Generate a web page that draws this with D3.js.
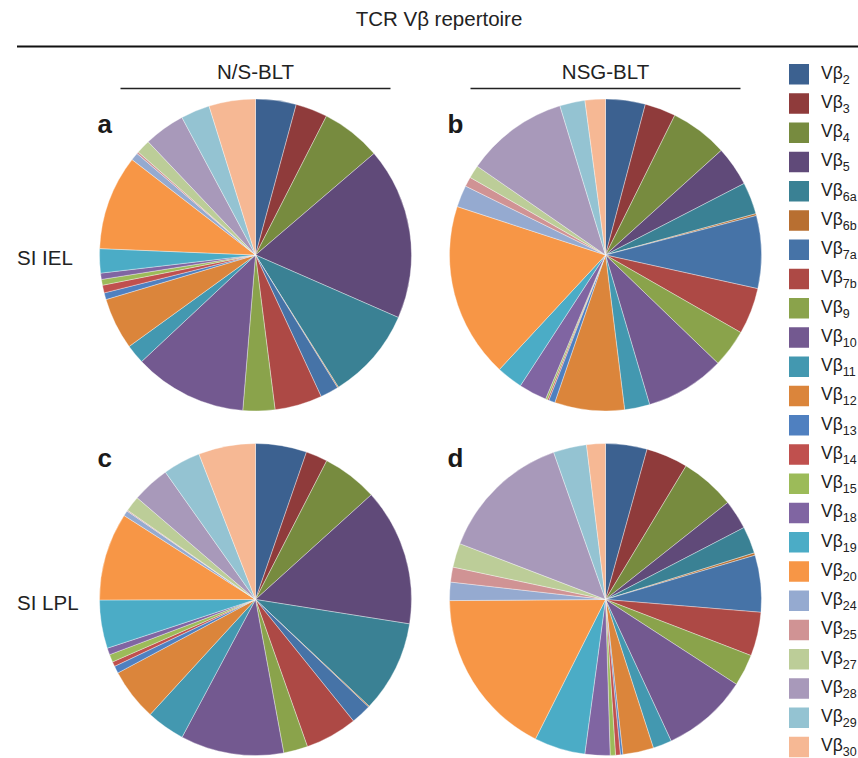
<!DOCTYPE html>
<html>
<head>
<meta charset="utf-8">
<script src="https://cdn.jsdelivr.net/npm/d3@7"></script>
<style>
  html, body { margin: 0; padding: 0; background: #fff; }
  svg { display: block; font-family: "Liberation Sans", Arial, Helvetica, sans-serif; }
</style>
</head>
<body>
<svg id="chart" width="858" height="758"></svg>
<script>
// TCR Vβ family names (subscripts) in drawing order
const families = ["2", "3", "4", "5", "6a", "6b", "7a", "7b", "9", "10", "11", "12",
                  "13", "14", "15", "18", "19", "20", "24", "25", "27", "28", "29", "30"];

// Colour per family
const familyColors = ["#3c6190", "#8f3b3b", "#778b3f", "#604a79", "#3a8194", "#b86f31",
                      "#4673a7", "#ad4945", "#8aa34b", "#735990", "#4398b0", "#db853b",
                      "#4f80c0", "#c0504e", "#9cbb59", "#8065a2", "#4bacc6", "#f79646",
                      "#95aad0", "#d09394", "#bccd98", "#a899ba", "#94c3d2", "#f6b894"];

// Repertoire share (%) per family, one array per panel
const nsBltIEL  = [4.2, 3.3, 6.2, 17.8, 9.5, 0.1, 1.9, 4.9, 3.3, 11.7, 2.0, 5.35,
                   0.7, 0.8, 0.6, 0.65, 2.5, 9.8, 0.8, 0.2, 1.45, 4.25, 3.0, 4.8];
const nsgBltIEL = [4.1, 3.2, 5.95, 4.1, 3.3, 0.2, 7.5, 4.8, 3.9, 8.2, 2.6, 7.2,
                   0.65, 0.15, 0.2, 2.9, 2.7, 18.05, 2.25, 1.0, 1.35, 10.6, 2.6, 2.1];
const nsBltLPL  = [5.3, 2.25, 5.75, 14.2, 9.5, 0.1, 2.1, 5.4, 2.5, 10.7, 4.0, 5.4,
                   0.75, 0.5, 0.8, 0.7, 5.0, 9.1, 0.55, 0.1, 1.6, 3.9, 3.9, 5.9];
const nsgBltLPL = [4.3, 4.35, 5.7, 3.05, 2.8, 0.25, 5.9, 4.55, 3.3, 8.95, 1.95, 3.2,
                   0.25, 0.5, 0.55, 2.6, 5.3, 17.5, 1.9, 1.55, 2.5, 13.8, 3.45, 1.95];

// Column / row headings and panel letters
const mainTitle = "TCR Vβ repertoire";
const columnTitles = ["N/S-BLT", "NSG-BLT"];
const rowTitles = ["SI IEL", "SI LPL"];
const panelLetters = ["a", "b", "c", "d"];

const svg = d3.select("#chart");

const color = d3.scaleOrdinal().domain(families).range(familyColors);

// Grid layout of the four pies
const colX = d3.scalePoint().domain([0, 1]).range([255.5, 605.5]);
const rowY = d3.scalePoint().domain([0, 1]).range([255, 599.5]);
const radius = 156;

const panels = [
  { values: nsBltIEL,  col: 0, row: 0 },
  { values: nsgBltIEL, col: 1, row: 0 },
  { values: nsBltLPL,  col: 0, row: 1 },
  { values: nsgBltLPL, col: 1, row: 1 }
];

// Main heading with rule underneath
svg.append("text")
  .attr("x", 439).attr("y", 26)
  .attr("text-anchor", "middle")
  .attr("font-size", 20.5)
  .attr("fill", "#222")
  .text(mainTitle);

svg.append("line")
  .attr("x1", 17).attr("x2", 858)
  .attr("y1", 46.5).attr("y2", 46.5)
  .attr("stroke", "#111").attr("stroke-width", 2);

// Column headings with underlines
columnTitles.forEach((t, i) => {
  const cx = colX(i);
  svg.append("text")
    .attr("x", cx).attr("y", 78.5)
    .attr("text-anchor", "middle")
    .attr("font-size", 20.5)
    .attr("fill", "#222")
    .text(t);
  svg.append("line")
    .attr("x1", cx - 135).attr("x2", cx + 135)
    .attr("y1", 88.5).attr("y2", 88.5)
    .attr("stroke", "#222").attr("stroke-width", 1.3);
});

// Row headings
rowTitles.forEach((t, i) => {
  svg.append("text")
    .attr("x", 17).attr("y", rowY(i) + 10)
    .attr("font-size", 20.5)
    .attr("fill", "#222")
    .text(t);
});

// Pies
const pie = d3.pie().sort(null).value(d => d.value);
const arc = d3.arc().innerRadius(0).outerRadius(radius);

panels.forEach((p, i) => {
  const g = svg.append("g")
    .attr("transform", `translate(${colX(p.col)},${rowY(p.row)})`);
  const data = p.values.map((v, k) => ({ family: families[k], value: v }));
  g.selectAll("path")
    .data(pie(data))
    .join("path")
    .attr("d", arc)
    .attr("fill", d => color(d.data.family))
    .attr("stroke", "rgba(255,255,255,0.6)")
    .attr("stroke-width", 0.6)
    .attr("stroke-linejoin", "round");

  svg.append("text")
    .attr("x", colX(p.col) - 158)
    .attr("y", rowY(p.row) - (p.row === 0 ? 122 : 133))
    .attr("font-size", 26)
    .attr("font-weight", "bold")
    .attr("fill", "#1a1a1a")
    .text(panelLetters[i]);
});

// Legend
const legendY = d3.scaleBand().domain(families).range([64, 64 + 29.25 * families.length]);
const legend = svg.append("g");
const item = legend.selectAll("g")
  .data(families)
  .join("g")
  .attr("transform", d => `translate(789,${legendY(d)})`);

item.append("rect")
  .attr("width", 20).attr("height", 20.5)
  .attr("fill", d => color(d));

const label = item.append("text")
  .attr("x", 32).attr("y", 14.5)
  .attr("font-size", 17.5)
  .attr("fill", "#222");
label.append("tspan").text("Vβ");
label.append("tspan")
  .attr("font-size", 12.5)
  .attr("dy", 5)
  .text(d => d);
</script>
</body>
</html>
